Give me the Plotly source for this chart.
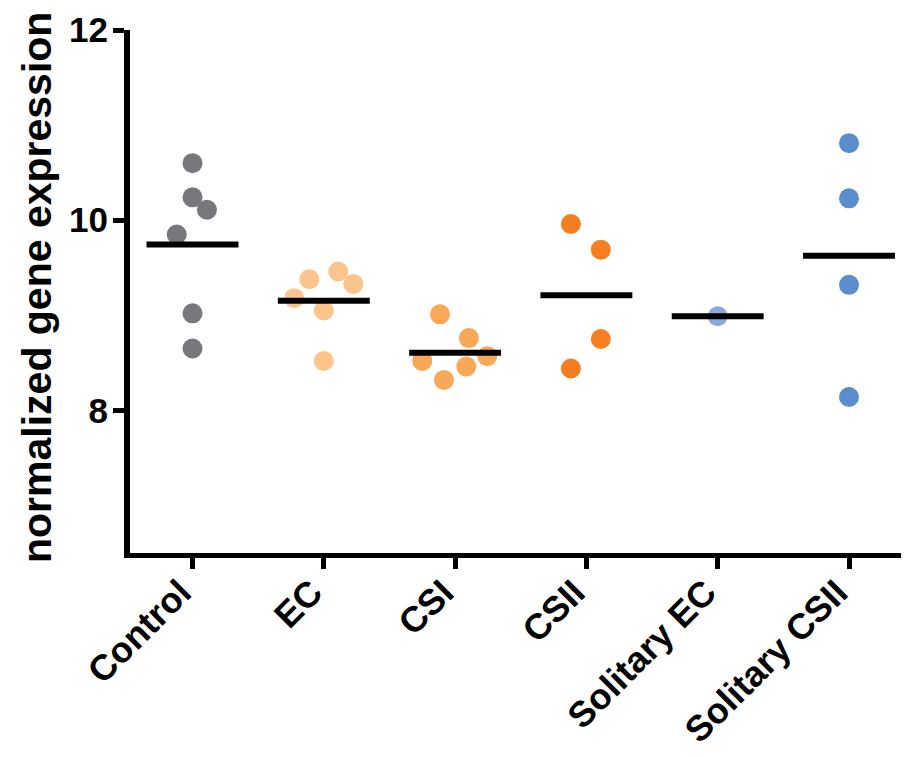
import plotly.graph_objects as go
import numpy as np

categories = ["Control", "EC", "CSI", "CSII", "Solitary EC", "Solitary CSII"]

control_vals = [10.60, 10.24, 10.11, 9.85, 9.02, 8.65]
ec_vals = [9.46, 9.38, 9.33, 9.18, 9.05, 8.52]
csi_vals = [9.01, 8.76, 8.57, 8.52, 8.46, 8.32]
csii_vals = [9.96, 9.69, 8.75, 8.44]
sol_ec_vals = [8.99]
sol_csii_vals = [10.81, 10.23, 9.32, 8.14]

# horizontal jitter (category units) as seen in the picture
control_jit = [0, 0, 0.11, -0.12, 0, 0]
ec_jit = [0.11, -0.11, 0.225, -0.225, 0, 0]
csi_jit = [-0.115, 0.105, 0.245, -0.25, 0.085, -0.085]
csii_jit = [-0.118, 0.11, 0.11, -0.118]
sol_ec_jit = [0]
sol_csii_jit = [0, 0, 0, 0]

colors = ["#77787B", "#FDC58C", "#F9A858", "#F47E20", "#8BA9DA", "#5A8DCB"]

groups = [
    (control_vals, control_jit),
    (ec_vals, ec_jit),
    (csi_vals, csi_jit),
    (csii_vals, csii_jit),
    (sol_ec_vals, sol_ec_jit),
    (sol_csii_vals, sol_csii_jit),
]

y_ticks = [8, 10, 12]
y_title = "normalized gene expression"

fig = go.Figure()

for i, (vals, jit) in enumerate(groups):
    fig.add_trace(go.Scatter(
        x=[i + j for j in jit], y=vals, mode="markers",
        marker=dict(size=20, color=colors[i], line=dict(width=0)),
        showlegend=False, cliponaxis=False,
    ))

half = 0.35
for i, (vals, jit) in enumerate(groups):
    m = float(np.mean(vals))
    fig.add_trace(go.Scatter(
        x=[i - half, i + half], y=[m, m], mode="lines",
        line=dict(color="black", width=6),
        showlegend=False, cliponaxis=False,
    ))

font_family = "Liberation Sans, Arial, sans-serif"

# page body adds an 8px offset; figure is sized to fill the rest of the window
FW, FH = 901, 749
L, R, T, B = 122, 0, 22, 204
W = FW - L - R
H = FH - T - B

fig.update_layout(
    width=FW, height=FH,
    margin=dict(l=L, r=R, t=T, b=B, autoexpand=False),
    paper_bgcolor="white", plot_bgcolor="white",
    font=dict(family=font_family, color="black"),
    xaxis=dict(
        range=[-0.476, 5.457],
        tickvals=list(range(len(categories))), ticktext=categories,
        tickangle=-45,
        tickfont=dict(size=36, family=font_family, weight="bold", color="black"),
        ticklabelshift=-12, ticklabelstandoff=-12,
        showline=True, linecolor="black", linewidth=5,
        ticks="outside", ticklen=11, tickwidth=5, tickcolor="black",
        showgrid=False, zeroline=False, automargin=False,
    ),
    yaxis=dict(
        range=[6.5, 12],
        tickvals=y_ticks, ticktext=[str(v) for v in y_ticks],
        tickfont=dict(size=35, family=font_family, weight="bold", color="black"),
        ticklabelstandoff=-2,
        showline=True, linecolor="black", linewidth=6,
        ticks="outside", ticklen=11, tickwidth=5, tickcolor="black",
        showgrid=False, zeroline=False, automargin=False,
    ),
    annotations=[dict(
        text=y_title, textangle=-90, showarrow=False,
        xref="paper", yref="paper",
        x=(29 - L) / W, y=(FH - B - 280) / H,
        xanchor="center", yanchor="middle",
        font=dict(size=41, family=font_family, weight="bold", color="black"),
    )],
)

fig.write_html("out.html")
